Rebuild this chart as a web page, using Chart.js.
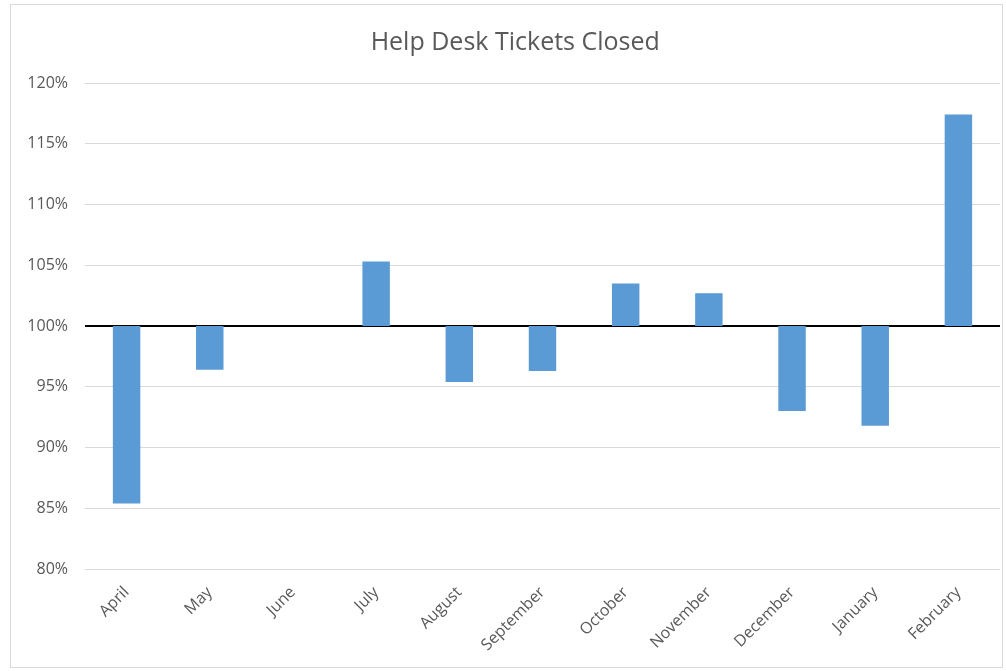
<!DOCTYPE html>
<html>
<head>
<meta charset="utf-8">
<script src="https://cdn.jsdelivr.net/npm/chart.js@4"></script>
<style>
  html, body { margin: 0; padding: 0; background: #fff; }
  #wrap {
    position: absolute;
    left: 10px; top: 4px;
    width: 993px; height: 664px;
    border: 1px solid #d9d9d9;
    box-sizing: border-box;
  }
</style>
</head>
<body>
<div id="wrap"><canvas id="ticketsChart"></canvas></div>
<script>
const months = ["April", "May", "June", "July", "August", "September",
  "October", "November", "December", "January", "February"];
const closedPct = [85.4, 96.4, 100, 105.3, 95.4, 96.3, 103.5, 102.7, 93.0, 91.8, 117.4];
const baseline = 100;
const yMin = 80, yMax = 120, yStep = 5;

const FONT = "'Open Sans', sans-serif";

const ctx = document.getElementById("ticketsChart").getContext("2d");
new Chart(ctx, {
  type: "bar",
  data: {
    labels: months,
    datasets: [{
      label: "Tickets closed",
      data: closedPct.map((v) => [baseline, v]), // bars start at 100%
      backgroundColor: "#5b9bd5",
      borderWidth: 0,
      barPercentage: 0.33,
      categoryPercentage: 1,
    }],
  },
  options: {
    responsive: true,
    maintainAspectRatio: false,
    animation: false,
    layout: { padding: { left: 0, right: 2, top: 0, bottom: 0 } },
    plugins: {
      legend: { display: false },
      tooltip: { enabled: false },
      title: {
        display: true,
        // leading spaces nudge the centred title a little to the right
        text: "\u00a0\u00a0\u00a0Help Desk Tickets Closed",
        color: "#595959",
        font: { family: FONT, size: 25, weight: "normal" },
        padding: { top: 23, bottom: 25 },
      },
    },
    scales: {
      x: {
        grid: { display: false },
        border: { display: false },
        ticks: {
          color: "#595959",
          font: { family: FONT, size: 16 },
          minRotation: 45,
          maxRotation: 45,
          autoSkip: false,
          padding: 6,
        },
        afterFit: (scale) => { scale.height = 98; },
      },
      y: {
        min: yMin,
        max: yMax,
        border: { display: false },
        grid: {
          drawTicks: false,
          color: (c) => (c.tick && c.tick.value === baseline ? "#000" : "#d9d9d9"),
          lineWidth: (c) => (c.tick && c.tick.value === baseline ? 2 : 1),
        },
        ticks: {
          stepSize: yStep,
          color: "#595959",
          font: { family: FONT, size: 16 },
          padding: 17,
          callback: (v) => v + "%",
        },
        afterFit: (scale) => { scale.width = 74; },
      },
    },
  },
});
</script>
</body>
</html>
